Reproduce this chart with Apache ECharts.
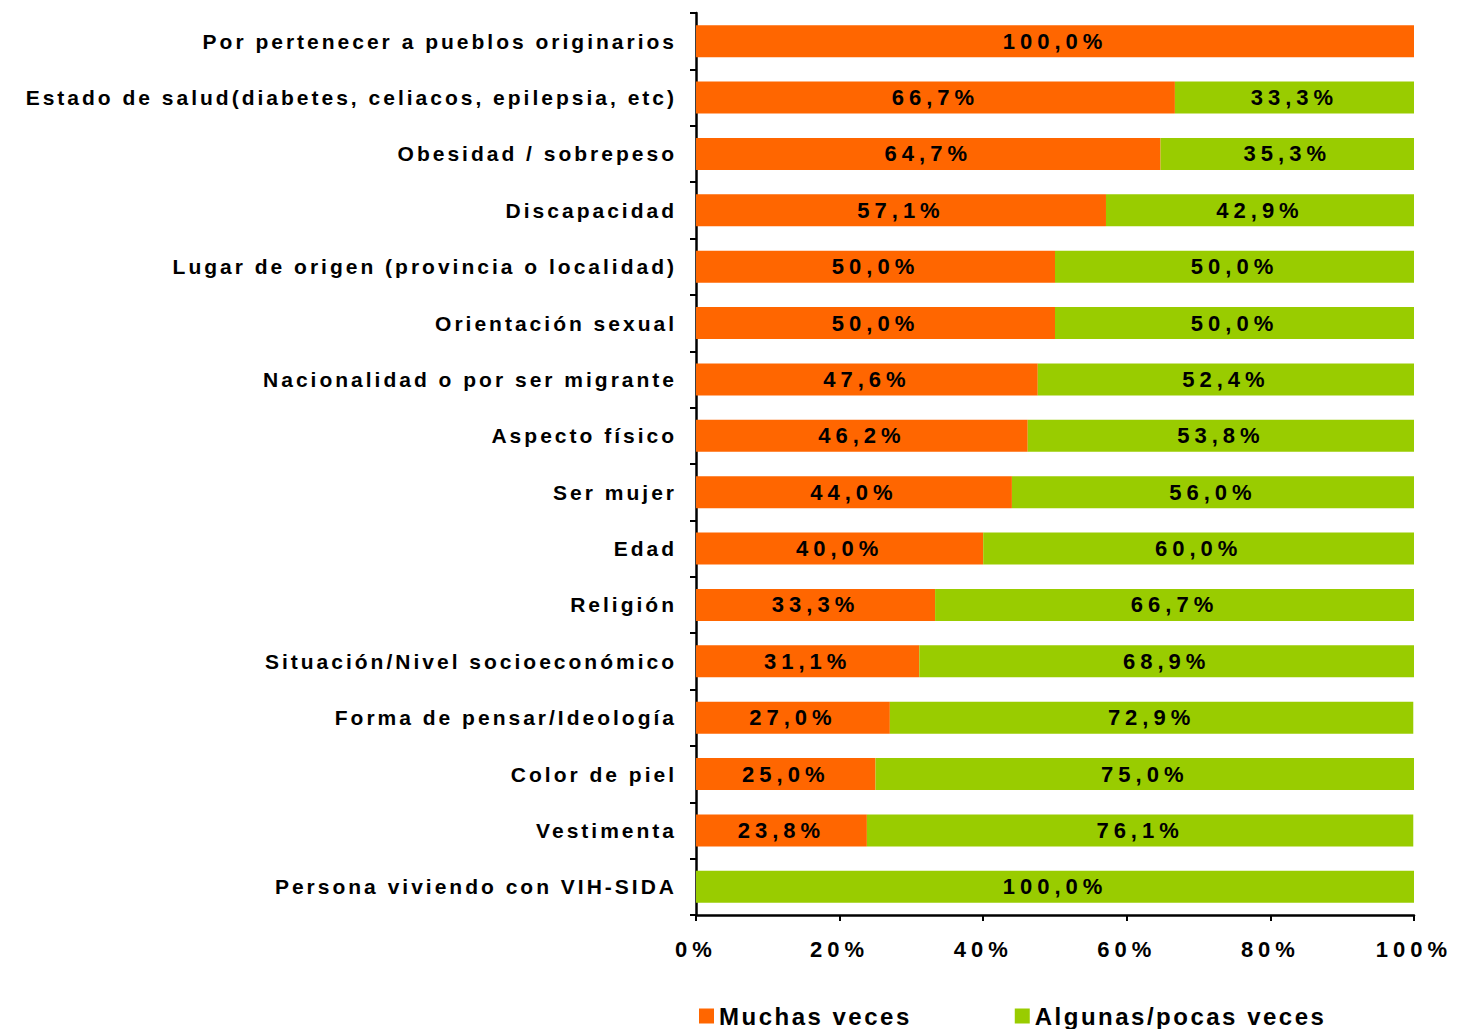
<!DOCTYPE html>
<html>
<head>
<meta charset="utf-8">
<script src="https://cdn.jsdelivr.net/npm/echarts@6/dist/echarts.min.js"></script>
<style>
  html, body { margin: 0; padding: 0; background: #fff; }
  #main { width: 1458px; height: 1029px; }
  /* espaciado de letras como en el original */
  #main text[style*="21px"] { letter-spacing: 3px; }
  #main text[style*="22px"] { letter-spacing: 5px; }
  #main text[style*="24px"] { letter-spacing: 2.5px; }
</style>
</head>
<body>
<div id="main"></div>
<script>
var categorias = [
  'Por pertenecer a pueblos originarios',
  'Estado de salud(diabetes, celiacos, epilepsia, etc)',
  'Obesidad / sobrepeso',
  'Discapacidad',
  'Lugar de origen (provincia o localidad)',
  'Orientación sexual',
  'Nacionalidad o por ser migrante',
  'Aspecto físico',
  'Ser mujer',
  'Edad',
  'Religión',
  'Situación/Nivel socioeconómico',
  'Forma de pensar/Ideología',
  'Color de piel',
  'Vestimenta',
  'Persona viviendo con VIH-SIDA'
];
var muchasVeces = [100, 66.7, 64.7, 57.1, 50.0, 50.0, 47.6, 46.2, 44.0, 40.0, 33.3, 31.1, 27.0, 25.0, 23.8, 0];
var algunasVeces = [0, 33.3, 35.3, 42.9, 50.0, 50.0, 52.4, 53.8, 56.0, 60.0, 66.7, 68.9, 72.9, 75.0, 76.1, 100];
var ticksX = [0, 20, 40, 60, 80, 100];

var FONT = '"Liberation Sans", Arial, sans-serif';

function etiqueta(p) {
  if (!p.value) return '';
  return p.value.toFixed(1).replace('.', ',') + '%';
}

var labelStyle = {
  show: true,
  position: 'inside',
  color: '#000',
  fontFamily: FONT,
  fontWeight: 'bold',
  fontSize: 22,
  formatter: etiqueta
};

var mychart = echarts.init(document.getElementById('main'), null, { renderer: 'svg' });

var option = {
  animation: false,
  backgroundColor: '#fff',
  grid: { left: 696, right: 44, top: 13, bottom: 114, containLabel: false },
  legend: {
    data: ['Muchas veces', 'Algunas/pocas veces'],
    left: 694,
    top: 999,
    itemWidth: 15,
    itemHeight: 15,
    itemGap: 133,
    icon: 'rect',
    textStyle: { fontFamily: FONT, fontWeight: 'bold', fontSize: 24, color: '#000' }
  },
  xAxis: {
    type: 'value',
    min: 0,
    max: 100,
    interval: 20,
    axisLine: { show: true, lineStyle: { color: '#000', width: 2.5 } },
    axisTick: { show: true, length: 6, lineStyle: { color: '#000', width: 2 } },
    splitLine: { show: false },
    axisLabel: {
      margin: 23,
      color: '#000',
      fontFamily: FONT,
      fontWeight: 'bold',
      fontSize: 22,
      formatter: function (v) { return ticksX.indexOf(v) >= 0 ? v + '%' : ''; }
    }
  },
  yAxis: {
    type: 'category',
    inverse: true,
    data: categorias,
    axisLine: { show: true, lineStyle: { color: '#000', width: 2.5 } },
    axisTick: { show: true, length: 6, alignWithLabel: false, lineStyle: { color: '#000', width: 2 } },
    axisLabel: {
      margin: 19,
      color: '#000',
      fontFamily: FONT,
      fontWeight: 'bold',
      fontSize: 21
    }
  },
  series: [
    {
      name: 'Muchas veces',
      type: 'bar',
      stack: 'total',
      barWidth: 32,
      itemStyle: { color: '#FF6600' },
      label: labelStyle,
      data: muchasVeces
    },
    {
      name: 'Algunas/pocas veces',
      type: 'bar',
      stack: 'total',
      barWidth: 32,
      itemStyle: { color: '#99CC00' },
      label: labelStyle,
      data: algunasVeces
    }
  ]
};

mychart.setOption(option);
</script>
</body>
</html>
